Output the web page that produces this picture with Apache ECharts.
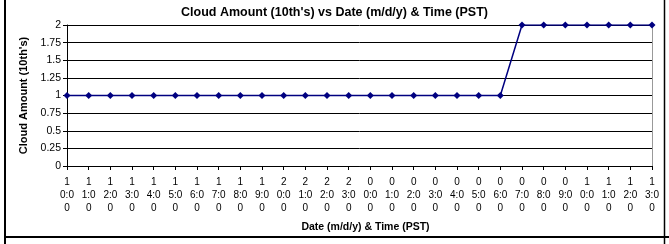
<!DOCTYPE html>
<html><head><meta charset="utf-8">
<script src="https://cdn.jsdelivr.net/npm/echarts@6/dist/echarts.min.js"></script>
<style>html,body{margin:0;padding:0;background:#fff}#c{width:669px;height:244px}</style>
</head><body><div id="c"></div>
<script>
var categories = ['10:00','11:00','12:00','13:00','14:00','15:00','16:00','17:00','18:00','19:00','20:00','21:00','22:00','23:00','00:00','01:00','02:00','03:00','04:00','05:00','06:00','07:00','08:00','09:00','10:00','11:00','12:00','13:00'];
var cloudAmount = [1,1,1,1,1,1,1,1,1,1,1,1,1,1,1,1,1,1,1,1,1,2,2,2,2,2,2,2];
var yTicks = [0,0.25,0.5,0.75,1,1.25,1.5,1.75,2];
var titleText = "Cloud Amount (10th's) vs Date (m/d/y) & Time (PST)";
var xName = 'Date (m/d/y) & Time (PST)';
var yName = "Cloud Amount (10th's)";

var chart = echarts.init(document.getElementById('c'), null, {renderer:'canvas'});
var F = 'Liberation Sans, Arial, sans-serif';
chart.setOption({
  backgroundColor:'#fff',
  animation:false,
  title:{text:titleText,left:'center',top:1,textStyle:{fontFamily:F,fontSize:12.5,fontWeight:'bold',color:'#000'}},
  grid:{left:67,right:17,top:25,bottom:78,show:false},
  graphic:[
    {type:'line',shape:{x1:5,y1:0,x2:5,y2:244},style:{stroke:'#000',lineWidth:2}},
    {type:'line',shape:{x1:664.5,y1:0,x2:664.5,y2:244},style:{stroke:'#000',lineWidth:1.5}},
    {type:'line',shape:{x1:5,y1:237,x2:669,y2:237},style:{stroke:'#000',lineWidth:2}},
    {type:'line',shape:{x1:652.5,y1:25,x2:652.5,y2:167},style:{stroke:'#999',lineWidth:1}}
  ],
  xAxis:{type:'category',data:categories,boundaryGap:false,
    name:xName,nameLocation:'middle',nameGap:56,
    nameTextStyle:{fontFamily:F,fontSize:10.5,fontWeight:'bold',color:'#000',padding:[0,0,0,12]},
    axisLine:{lineStyle:{color:'#000',width:1}},
    axisTick:{show:true,length:4,lineStyle:{color:'#000'},alignWithLabel:true},
    axisLabel:{interval:0,fontFamily:F,fontSize:10,color:'#000',lineHeight:13,margin:10,
      formatter:function(v){return v.charAt(0)+'\n'+v.slice(1,4)+'\n'+v.charAt(4);}},
    splitLine:{show:false}},
  yAxis:{type:'value',min:yTicks[0],max:yTicks[yTicks.length-1],interval:0.25,
    name:yName,nameLocation:'middle',nameGap:38,
    nameTextStyle:{fontFamily:F,fontSize:11,fontWeight:'bold',color:'#000'},
    axisLine:{show:true,lineStyle:{color:'#000',width:1}},
    axisTick:{show:true,length:4,lineStyle:{color:'#000'}},
    axisLabel:{fontFamily:F,fontSize:10.5,color:'#000',margin:6},
    splitLine:{show:true,lineStyle:{color:'#000',width:1}}},
  series:[{type:'line',data:cloudAmount,symbol:'diamond',symbolSize:7,
    lineStyle:{color:'#000080',width:1.5},itemStyle:{color:'#000080'}}]
});
</script></body></html>
